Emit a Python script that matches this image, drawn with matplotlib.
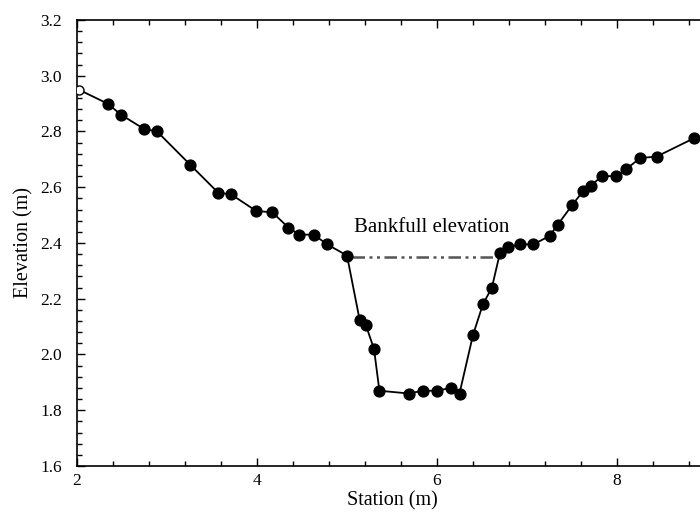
import numpy as np
import matplotlib
matplotlib.use("Agg")
import matplotlib.pyplot as plt
from matplotlib.ticker import MultipleLocator, FormatStrFormatter

matplotlib.rcParams.update({
    "font.family": "serif",
    "font.serif": ["Liberation Serif", "DejaVu Serif"],
})

# surveyed cross-section (station, elevation)
station = [2.02, 2.34, 2.49, 2.74, 2.89, 3.26, 3.57, 3.71, 3.99, 4.17,
           4.35, 4.47, 4.63, 4.78, 5.00, 5.14, 5.21, 5.30, 5.36, 5.69,
           5.84, 6.00, 6.15, 6.25, 6.40, 6.51, 6.61, 6.70, 6.79, 6.92,
           7.07, 7.25, 7.34, 7.50, 7.62, 7.71, 7.83, 7.99, 8.10, 8.26,
           8.44, 8.85]
elevation = [2.95, 2.90, 2.86, 2.81, 2.80, 2.68, 2.58, 2.575, 2.515, 2.51,
             2.455, 2.43, 2.43, 2.395, 2.355, 2.125, 2.105, 2.02, 1.87, 1.86,
             1.87, 1.87, 1.88, 1.86, 2.07, 2.18, 2.24, 2.365, 2.385, 2.395,
             2.395, 2.425, 2.465, 2.535, 2.585, 2.605, 2.64, 2.64, 2.665, 2.705,
             2.71, 2.775]

bankfull_x = [5.05, 6.70]
bankfull_elev = 2.35

fig = plt.figure(figsize=(7.0, 5.18), dpi=100)
# axes run a little past the right edge, so the right spine is cut off
ax = fig.add_axes([0.11, 0.1004, 630 / 700, 0.8610])

ax.plot(station, elevation, color="black", linewidth=1.3, zorder=2)
ax.plot(station[1:], elevation[1:], "o", color="black", markersize=7.8, zorder=3)
ax.plot(station[:1], elevation[:1], "o", markerfacecolor="white",
        markeredgecolor="black", markeredgewidth=1.0, markersize=6.5, zorder=3)

ax.plot(bankfull_x, [bankfull_elev] * 2, color="#555555", linewidth=1.8,
        dashes=(5, 1.8, 1.2, 1.8, 1.2, 1.8), zorder=1)
ax.text(5.94, 2.455, "Bankfull elevation", ha="center", va="center", fontsize=15)

ax.set_xlim(2, 9)
ax.set_ylim(1.6, 3.2)
ax.xaxis.set_major_locator(MultipleLocator(2))
ax.xaxis.set_minor_locator(MultipleLocator(0.4))
ax.yaxis.set_major_locator(MultipleLocator(0.2))
ax.yaxis.set_minor_locator(MultipleLocator(0.04))
ax.yaxis.set_major_formatter(FormatStrFormatter("%.1f"))
ax.tick_params(which="both", direction="in", top=True, right=False,
               labelsize=12.5, width=1.0)
ax.tick_params(which="major", length=5.5)
ax.tick_params(which="minor", length=3.5)
ax.tick_params(axis="x", which="major", pad=5)
ax.tick_params(axis="y", which="major", pad=11)
ax.spines["right"].set_visible(False)
for s in ["left", "top", "bottom"]:
    ax.spines[s].set_linewidth(1.2)

ax.set_xlabel("Station (m)", fontsize=14.5, labelpad=2)
ax.set_ylabel("Elevation (m)", fontsize=14.5, labelpad=5)

fig.savefig("out.png", dpi=100)
